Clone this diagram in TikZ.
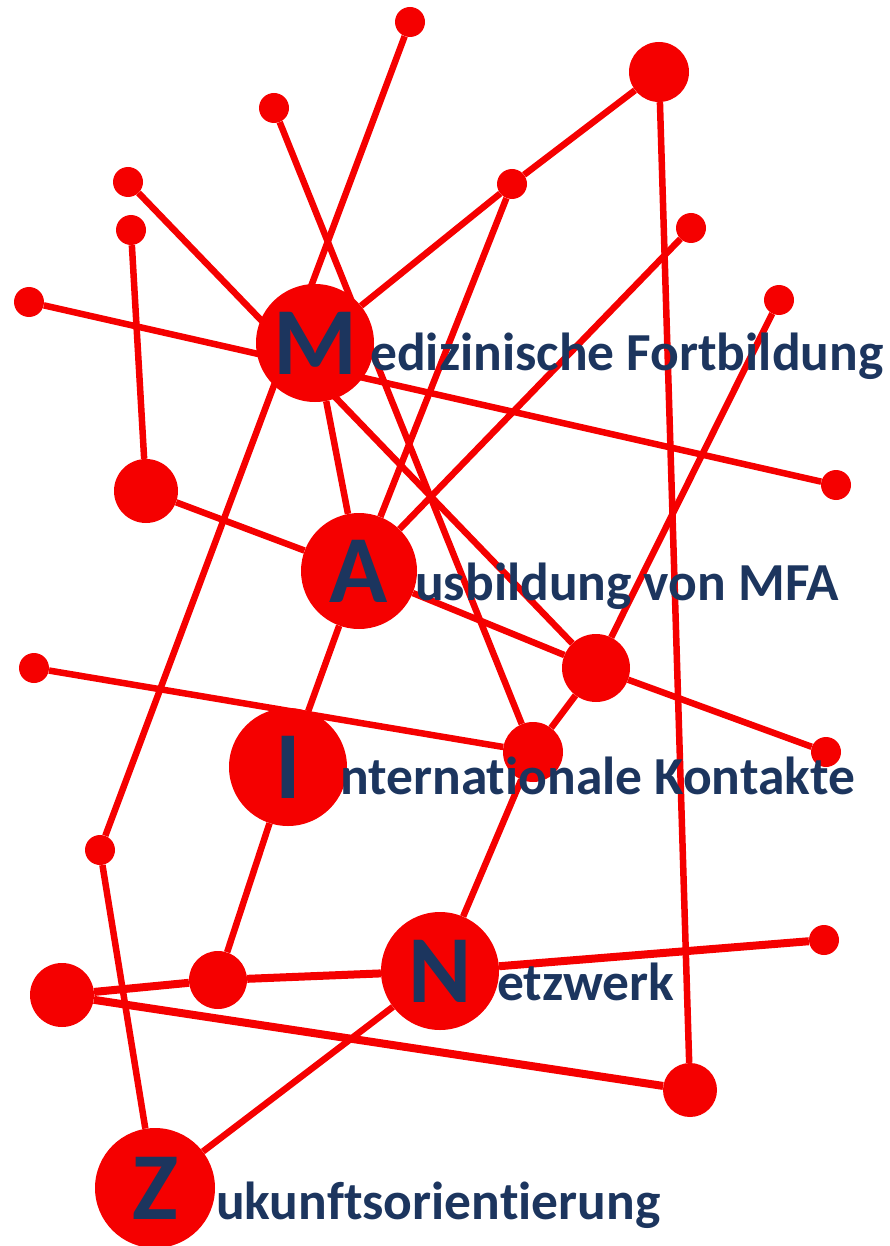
\documentclass[tikz,border=0pt]{standalone}
\usepackage{xcolor}
\usepackage{tikz}
\usepackage{fontspec}
\usetikzlibrary{backgrounds}
\setmainfont{Carlito}[Ligatures={NoCommon,NoContextual}, RawFeature=-liga, RawFeature=-calt, RawFeature=-clig]
\definecolor{netred}{RGB}{245,0,0}
\definecolor{netnavy}{RGB}{28,53,94}

\begin{document}
\begin{tikzpicture}[x=1pt, y=-1pt]
\tikzstyle{link}=[draw=netred, line width=6.5pt]
\tikzstyle{heavylink}=[link, line width=8pt]
\tikzstyle{pin}=[circle, fill=netred, inner sep=0pt, minimum size=30pt]
\tikzstyle{knot}=[circle, fill=netred, inner sep=0pt]
\tikzstyle{hub}=[circle, fill=netred, inner sep=0pt, minimum size=118pt, text=netnavy, font=\fontsize{96}{96}\selectfont\bfseries]
\tikzstyle{word}=[anchor=base west, inner sep=0pt, text=netnavy, font=\fontsize{53.5}{60}\selectfont\bfseries]

% page frame
\useasboundingbox (0,0) rectangle (890,1246);

% big letter hubs
\node[hub] (hub-m) at (315,343) {M};
\node[hub, minimum size=116pt] (hub-a) at (359,571) {A};
\node[hub] (hub-i) at (288,767) {I};
\node[hub, minimum size=118pt] (hub-n) at (440,971) {N};
\node[hub, minimum size=120pt] (hub-z) at (155,1188) {Z};

% medium knots
\node[knot, minimum size=60pt] (knot-corner) at (659,72) {};
\node[knot, minimum size=64pt] (knot-left) at (146,491) {};
\node[knot, minimum size=68pt] (knot-right) at (596,668) {};
\node[knot, minimum size=60pt] (knot-centre) at (533,752) {};
\node[knot, minimum size=64pt] (knot-base) at (62,995) {};
\node[knot, minimum size=58pt] (knot-inner) at (218,980) {};
\node[knot, minimum size=54pt] (knot-foot) at (690,1090) {};

% small pins
\node[pin] (pin-top) at (410,22) {};
\node[pin] (pin-upper) at (274,108) {};
\node[pin] (pin-nw) at (128,182) {};
\node[pin] (pin-wnw) at (131,230) {};
\node[pin] (pin-mid) at (512,184) {};
\node[pin] (pin-ne) at (691,228) {};
\node[pin] (pin-ene) at (779,300) {};
\node[pin] (pin-west) at (29,302) {};
\node[pin] (pin-east) at (836,485) {};
\node[pin] (pin-wsw) at (34,668) {};
\node[pin] (pin-ese) at (826,752) {};
\node[pin] (pin-low) at (100,850) {};
\node[pin] (pin-se) at (824,940) {};

% words
\node[word] (word-m) at (370,370) {edizinische Fortbildung};
\node[word] (word-a) at (415,600) {usbildung von MFA};
\node[word] (word-i) at (340,794) {nternationale Kontakte};
\node[word] (word-n) at (497,1000) {etzwerk};
\node[word] (word-z) at (216,1219) {ukunftsorientierung};

\begin{pgfonlayer}{background}
\path[link] (pin-top) -- (pin-low);
\path[link] (pin-low) -- (hub-z);
\path[link] (pin-upper) -- (knot-centre);
\path[link] (pin-nw) -- (knot-right);
\path[link] (pin-wnw) -- (knot-left);
\path[link] (pin-west) -- (pin-east);
\path[link] (hub-m) -- (pin-mid);
\path[link] (pin-mid) -- (knot-corner);
\path[link] (pin-mid) -- (hub-a);
\path[link] (pin-ne) -- (hub-a);
\path[link] (knot-corner) -- (knot-foot);
\path[link] (pin-ene) -- (knot-right);
\path[link] (knot-right) -- (knot-centre);
\path[link] (knot-centre) -- (hub-n);
\path[link] (hub-m) -- (hub-a);
\path[link] (knot-left) -- (hub-a);
\path[link] (hub-a) -- (knot-right);
\path[link] (knot-right) -- (pin-ese);
\path[link] (hub-a) -- (hub-i);
\path[link] (hub-i) -- (knot-inner);
\path[link] (pin-wsw) -- (knot-centre);
\path[heavylink] (knot-base) -- (knot-inner);
\path[heavylink] (knot-inner) -- (hub-n);
\path[heavylink] (hub-n) -- (pin-se);
\path[heavylink] (knot-base) -- (knot-foot);
\path[link] (hub-n) -- (hub-z);
\end{pgfonlayer}
\end{tikzpicture}
\end{document}
